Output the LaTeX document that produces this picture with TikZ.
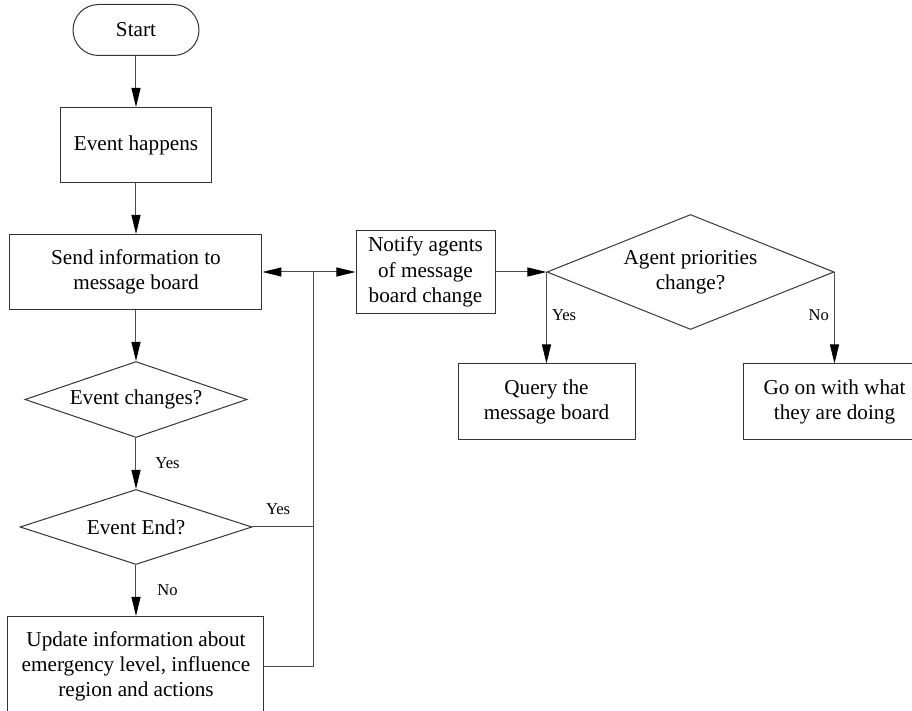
\documentclass[tikz,border=0pt]{standalone}
\usepackage{fontspec}
\setmainfont{Liberation Serif}
\usetikzlibrary{positioning,shapes.geometric,arrows.meta,calc}
\tikzset{
  base/.style={draw=black!80, line width=0.5pt, align=center, font=\fontsize{10.6}{12.6}\selectfont},
  term/.style={base, rectangle, rounded corners=12.75pt, minimum width=63pt, minimum height=25.5pt},
  box/.style={base, rectangle, minimum height=37.5pt},
  decision/.style={base, diamond, inner sep=0pt},
  connect/.style={-{Triangle[length=9.5pt,width=4.5pt,color=black]}, draw=black!70, line width=0.5pt},
  link/.style={draw=black!70, line width=0.5pt},
  lbl/.style={font=\fontsize{8.3}{10}\selectfont, inner sep=0pt}
}
\begin{document}
\begin{tikzpicture}[node distance=25.5pt]
		\useasboundingbox (-68pt,15pt) rectangle (388pt,-340.5pt);
		% main column
		\node[term] (start) at (0,0) {Start};
		\node[box, minimum width=75.5pt] (event) [below=of start] {Event happens};
		\node[box, minimum width=126pt] (send) [below=of event] {Send information to\\message board};
		\node[decision, aspect=2.9, minimum width=111pt, minimum height=38pt] (changes) [below=of send] {Event changes?};
		\node[decision, aspect=3.1, minimum width=116pt, minimum height=37.5pt] (end) [below=of changes] {Event End?};
		\node[box, minimum width=128pt, minimum height=50pt] (update) [below=of end] {Update information about\\emergency level, influence\\region and actions};
		% right part
		\node[box, minimum width=69.5pt] (notify) [right=46.5pt of send] {Notify agents\\of message\\board change};
		\node[decision, aspect=2.5, minimum width=143.5pt, minimum height=57.5pt] (apc) [right=of notify] {Agent priorities\\change?};
		\node[box, minimum width=88.5pt, minimum height=38pt] (query) [below=45.75pt of apc.west] {Query the\\message board};
		\node[box, minimum width=91pt, minimum height=38pt] (goon) [below=45.75pt of apc.east] {Go on with what\\they are doing};
		\coordinate[right=of send.east] (jn);
		\path (start) edge [connect] (event)
		      (event) edge [connect] (send)
		      (send) edge [connect] (changes)
		      (changes) edge [connect] node[lbl, right=9.5pt] {Yes} (end)
		      (end) edge [connect] node[lbl, right=10.5pt] {No} (update);
		\draw[link] (update.east) -| (jn);
		\draw[link] (end.east) -- node[lbl, pos=0.42, above=5.75pt] {Yes} (end.east -| jn);
		\path (jn) edge [connect] (send.east)
		      (jn) edge [connect] (notify.west)
		      (notify) edge [connect] (apc)
		      (apc.west) edge [connect] node[lbl, pos=0.475, right=2.5pt] {Yes} (query)
		      (apc.east) edge [connect] node[lbl, pos=0.475, left=2.5pt] {No} (goon);
	\end{tikzpicture}
\end{document}
